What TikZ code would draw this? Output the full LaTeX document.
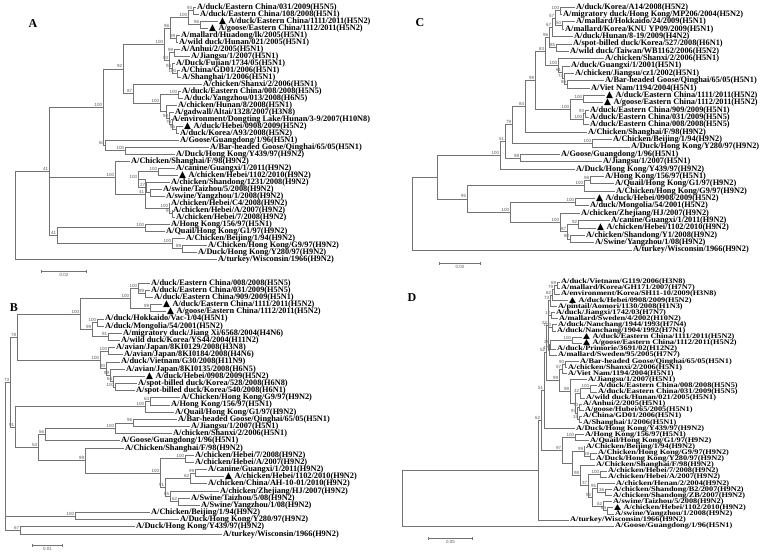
\documentclass[tikz,border=0pt]{standalone}
\usepackage{fontspec}
\setmainfont{Liberation Serif}
\newfontfamily\bootfont{Liberation Sans}
\newfontfamily\symbfont{DejaVu Sans}
\usetikzlibrary{arrows.meta}
\newcommand{\trimark}{{\symbfont\fontsize{9}{9}\selectfont ▲}\hspace{2.5pt}}

\begin{document}
\begin{tikzpicture}[
        x=1pt, y=-1pt,
        leaf/.style={
                anchor=west,
                inner xsep=1pt,
                inner ysep=0pt,
                text height=5.2pt,
                text depth=1pt,
                font=\bfseries\fontsize{8.3}{8.3}\selectfont
            },
        leafd/.style={leaf, yscale=0.85},
        boot/.style={
                font=\bootfont\fontsize{4.5}{4.5}\selectfont,
                text=black!65,
                inner sep=0.6pt
            },
        branch/.style={draw=black!55, line width=0.6pt},
        scalebar/.style={
                {Bar[width=3pt]}-{Bar[width=3pt]},
                draw=black!55,
                line width=0.6pt
            },
        panel/.style={font=\bfseries\fontsize{12}{12}\selectfont}
    ]

    \useasboundingbox (0,0) rectangle (769,557);

    \node[panel] (pa) at (33,24) {A};
    \node[panel] (pb) at (14,308) {B};
    \node[panel] (pc) at (420,23) {C};
    \node[panel] (pd) at (412,298) {D};

    % panel A
    \begin{scope}[y=-7pt]
        \node[leaf] (a1) at (196,1) {A/duck/Eastern China/031/2009(H5N5)};
        \node[leaf] (a2) at (199,2) {A/duck/Eastern China/108/2008(H5N1)};
        \node[leaf] (a3) at (218,3) {\trimark A/duck/Eastern China/1111/2011(H5N2)};
        \node[leaf] (a4) at (208,4) {\trimark A/goose/Eastern China/1112/2011(H5N2)};
        \node[leaf] (a5) at (180,5) {A/mallard/Huadong/lk/2005(H5N1)};
        \node[leaf] (a6) at (178,6) {A/wild duck/Hunan/021/2005(H5N1)};
        \node[leaf] (a7) at (180,7) {A/Anhui/2/2005(H5N1)};
        \node[leaf] (a8) at (190,8) {A/Jiangsu/1/2007(H5N1)};
        \node[leaf] (a9) at (175,9) {A/Duck/Fujian/1734/05(H5N1)};
        \node[leaf] (a10) at (180,10) {A/China/GD01/2006(H5N1)};
        \node[leaf] (a11) at (181,11) {A/Shanghai/1/2006(H5N1)};
        \node[leaf] (a12) at (202,12) {A/chicken/Shanxi/2/2006(H5N1)};
        \node[leaf] (a13) at (181,13) {A/duck/Eastern China/008/2008(H5N5)};
        \node[leaf] (a14) at (183,14) {A/duck/Yangzhou/013/2008(H6N5)};
        \node[leaf] (a15) at (177,15) {A/chicken/Hunan/8/2008(H5N1)};
        \node[leaf] (a16) at (174,16) {A/gadwall/Altai/1328/2007(H3N8)};
        \node[leaf] (a17) at (171,17) {A/environment/Dongting Lake/Hunan/3-9/2007(H10N8)};
        \node[leaf] (a18) at (183,18) {\trimark A/duck/Hebei/0908/2009(H5N2)};
        \node[leaf] (a19) at (179,19) {A/duck/Korea/A93/2008(H5N2)};
        \node[leaf] (a20) at (179,20) {A/Goose/Guangdong/1/96(H5N1)};
        \node[leaf] (a21) at (209,21) {A/Bar-headed Goose/Qinghai/65/05(H5N1)};
        \node[leaf] (a22) at (175,22) {A/Duck/Hong Kong/Y439/97(H9N2)};
        \node[leaf] (a23) at (130,23) {A/Chicken/Shanghai/F/98(H9N2)};
        \node[leaf] (a24) at (175,24) {A/canine/Guangxi/1/2011(H9N2)};
        \node[leaf] (a25) at (178,25) {\trimark A/chicken/Hebei/1102/2010(H9N2)};
        \node[leaf] (a26) at (170,26) {A/chicken/Shandong/1231/2008(H9N2)};
        \node[leaf] (a27) at (162,27) {A/swine/Taizhou/5/2008(H9N2)};
        \node[leaf] (a28) at (165,28) {A/swine/Yangzhou/1/2008(H9N2)};
        \node[leaf] (a29) at (170,29) {A/chicken/Hebei/C4/2008(H9N2)};
        \node[leaf] (a30) at (172,30) {A/chicken/Hebei/A/2007(H9N2)};
        \node[leaf] (a31) at (175,31) {A/chicken/Hebei/7/2008(H9N2)};
        \node[leaf] (a32) at (170,32) {A/Hong Kong/156/97(H5N1)};
        \node[leaf] (a33) at (165,33) {A/Quail/Hong Kong/G1/97(H9N2)};
        \node[leaf] (a34) at (185,34) {A/Chicken/Beijing/1/94(H9N2)};
        \node[leaf] (a35) at (207,35) {A/Chicken/Hong Kong/G9/97(H9N2)};
        \node[leaf] (a36) at (197,36) {A/Duck/Hong Kong/Y280/97(H9N2)};
        \node[leaf] (a37) at (217,37) {A/turkey/Wisconsin/1966(H9N2)};

        \coordinate[label={[boot]above left:94}] (an94) at (193,1.5);
        \coordinate[label={[boot]above left:96}] (an96b) at (200,3.5);
        \coordinate[label={[boot]above left:100}] (an100a) at (188,2.5);
        \coordinate[label={[boot]above left:99}] (an99a) at (176,5.5);
        \coordinate[label={[boot]above left:96}] (an96a) at (170,4);
        \coordinate[label={[boot]above left:99}] (an99b) at (174,7.5);
        \coordinate[label={[boot]above left:100}] (an100b) at (177,10.5);
        \coordinate[label={[boot]above left:94}] (an94b) at (172,9.75);
        \coordinate[label={[boot]above left:50}] (an50) at (169,8.63);
        \coordinate[label={[boot]above left:100}] (an100c) at (164,6.31);
        \coordinate[label={[boot]above left:100}] (an100d) at (178,13.5);
        \coordinate[label={[boot]above left:95}] (an95) at (176,18.5);
        \coordinate[label={[boot]above left:70}] (an70) at (172,17.75);
        \coordinate[label={[boot]above left:94}] (an94c) at (169,16.88);
        \coordinate (anhun) at (166,15.94);
        \coordinate[label={[boot]above left:100}] (an100e) at (160,14.72);
        \coordinate[label={[boot]above left:87}] (an87) at (133,13.36);
        \coordinate[label={[boot]above left:92}] (an92) at (123,9.83);
        \coordinate[label={[boot]above left:100}] (an100g) at (125,21.5);
        \coordinate[label={[boot]above left:60}] (an60) at (105,20.75);
        \coordinate[label={[boot]above left:100}] (an100t) at (103,15.29);
        \coordinate[label={[boot]above left:100}] (an100h) at (158,24.5);
        \coordinate (answ) at (150,27.5);
        \coordinate[label={[boot]above left:27}] (an27) at (146,26.75);
        \coordinate[label={[boot]above left:100}] (an100i) at (138,25.63);
        \coordinate[label={[boot]above left:91}] (an91) at (172,30.5);
        \coordinate[label={[boot]above left:100}] (an100k) at (169,29.75);
        \coordinate[label={[boot]above left:41}] (an41b) at (145,27.69);
        \coordinate[label={[boot]above left:100}] (an100l) at (115,25.34);
        \coordinate[label={[boot]above left:100}] (an100m) at (145,32.5);
        \coordinate[label={[boot]above left:89}] (an89) at (182,35.5);
        \coordinate[label={[boot]above left:100}] (an100n) at (172,34.75);
        \coordinate[label={[boot]above left:41}] (an41c) at (57,33.63);
        \coordinate[label={[boot]above left:41}] (an41) at (49,24.46);
        \coordinate (aroot) at (15,30.73);

        \draw[branch] (an94) |- (a1) (an94) |- (a2);
        \draw[branch] (an96b) |- (a3) (an96b) |- (a4);
        \draw[branch] (an100a) |- (an94) (an100a) |- (an96b);
        \draw[branch] (an99a) |- (a5) (an99a) |- (a6);
        \draw[branch] (an96a) |- (an100a) (an96a) |- (an99a);
        \draw[branch] (an99b) |- (a7) (an99b) |- (a8);
        \draw[branch] (an100b) |- (a10) (an100b) |- (a11);
        \draw[branch] (an94b) |- (a9) (an94b) |- (an100b);
        \draw[branch] (an50) |- (an99b) (an50) |- (an94b);
        \draw[branch] (an100c) |- (an96a) (an100c) |- (an50);
        \draw[branch] (an100d) |- (a13) (an100d) |- (a14);
        \draw[branch] (an95) |- (a18) (an95) |- (a19);
        \draw[branch] (an70) |- (a17) (an70) |- (an95);
        \draw[branch] (an94c) |- (a16) (an94c) |- (an70);
        \draw[branch] (anhun) |- (a15) (anhun) |- (an94c);
        \draw[branch] (an100e) |- (an100d) (an100e) |- (anhun);
        \draw[branch] (an87) |- (a12) (an87) |- (an100e);
        \draw[branch] (an92) |- (an100c) (an92) |- (an87);
        \draw[branch] (an100g) |- (a21) (an100g) |- (a22);
        \draw[branch] (an60) |- (a20) (an60) |- (an100g);
        \draw[branch] (an100t) |- (an92) (an100t) |- (an60);
        \draw[branch] (an100h) |- (a24) (an100h) |- (a25);
        \draw[branch] (answ) |- (a27) (answ) |- (a28);
        \draw[branch] (an27) |- (a26) (an27) |- (answ);
        \draw[branch] (an100i) |- (an100h) (an100i) |- (an27);
        \draw[branch] (an91) |- (a30) (an91) |- (a31);
        \draw[branch] (an100k) |- (a29) (an100k) |- (an91);
        \draw[branch] (an41b) |- (an100i) (an41b) |- (an100k);
        \draw[branch] (an100l) |- (a23) (an100l) |- (an41b);
        \draw[branch] (an100m) |- (a32) (an100m) |- (a33);
        \draw[branch] (an89) |- (a35) (an89) |- (a36);
        \draw[branch] (an100n) |- (a34) (an100n) |- (an89);
        \draw[branch] (an41c) |- (an100m) (an41c) |- (an100n);
        \draw[branch] (an41) |- (an100t) (an41) |- (an100l) (an41) |- (an41c);
        \draw[branch] (aroot) |- (an41) (aroot) |- (a37);
    \end{scope}

    % panel B
    \begin{scope}[yshift=-275.83pt, y=-7.17pt]
        \node[leaf] (b1) at (150,1) {A/duck/Eastern China/008/2008(H5N5)};
        \node[leaf] (b2) at (150,2) {A/duck/Eastern China/031/2009(H5N5)};
        \node[leaf] (b3) at (153,3) {A/duck/Eastern China/909/2009(H5N1)};
        \node[leaf] (b4) at (162,4) {\trimark A/duck/Eastern China/1111/2011(H5N2)};
        \node[leaf] (b5) at (166,5) {\trimark A/goose/Eastern China/1112/2011(H5N2)};
        \node[leaf] (b6) at (104,6) {A/duck/Hokkaido/Vac-1/04(H5N1)};
        \node[leaf] (b7) at (104,7) {A/duck/Mongolia/54/2001(H5N2)};
        \node[leaf] (b8) at (122,8) {A/migratory duck/Jiang Xi/6568/2004(H4N6)};
        \node[leaf] (b9) at (120,9) {A/wild duck/Korea/YS44/2004(H11N2)};
        \node[leaf] (b10) at (115,10) {A/avian/Japan/8KI0129/2008(H3N8)};
        \node[leaf] (b11) at (123,11) {A/avian/Japan/8KI0184/2008(H4N6)};
        \node[leaf] (b12) at (120,12) {A/duck/Vietnam/G30/2008(H11N9)};
        \node[leaf] (b13) at (125,13) {A/avian/Japan/8KI0135/2008(H6N5)};
        \node[leaf] (b14) at (145,14) {\trimark A/duck/Hebei/0908/2009(H5N2)};
        \node[leaf] (b15) at (137,15) {A/spot-billed duck/Korea/528/2008(H6N8)};
        \node[leaf] (b16) at (135,16) {A/spot-billed duck/Korea/540/2008(H6N1)};
        \node[leaf] (b17) at (180,17) {A/Chicken/Hong Kong/G9/97(H9N2)};
        \node[leaf] (b18) at (170,18) {A/Hong Kong/156/97(H5N1)};
        \node[leaf] (b19) at (174,19) {A/Quail/Hong Kong/G1/97(H9N2)};
        \node[leaf] (b20) at (177,20) {A/Bar-headed Goose/Qinghai/65/05(H5N1)};
        \node[leaf] (b21) at (190,21) {A/Jiangsu/1/2007(H5N1)};
        \node[leaf] (b22) at (172,22) {A/chicken/Shanxi/2/2006(H5N1)};
        \node[leaf] (b23) at (120,23) {A/Goose/Guangdong/1/96(H5N1)};
        \node[leaf] (b24) at (124,24) {A/Chicken/Shanghai/F/98(H9N2)};
        \node[leaf] (b25) at (194,25) {A/chicken/Hebei/7/2008(H9N2)};
        \node[leaf] (b26) at (194,26) {A/chicken/Hebei/A/2007(H9N2)};
        \node[leaf] (b27) at (207,27) {A/canine/Guangxi/1/2011(H9N2)};
        \node[leaf] (b28) at (224,28) {\trimark A/chicken/Hebei/1102/2010(H9N2)};
        \node[leaf] (b29) at (207,29) {A/chicken/China/AH-10-01/2010(H9N2)};
        \node[leaf] (b30) at (219,30) {A/chicken/Zhejiang/HJ/2007(H9N2)};
        \node[leaf] (b31) at (190,31) {A/Swine/Taizhou/5/08(H9N2)};
        \node[leaf] (b32) at (200,32) {A/Swine/Yangzhou/1/08(H9N2)};
        \node[leaf] (b33) at (150,33) {A/Chicken/Beijing/1/94(H9N2)};
        \node[leaf] (b34) at (179,34) {A/Duck/Hong Kong/Y280/97(H9N2)};
        \node[leaf] (b35) at (135,35) {A/Duck/Hong Kong/Y439/97(H9N2)};
        \node[leaf] (b36) at (222,36) {A/turkey/Wisconsin/1966(H9N2)};

        \coordinate[label={[boot]above left:99}] (bn99a) at (145,2.5);
        \coordinate[label={[boot]above left:100}] (bn100a) at (138,1.75);
        \coordinate[label={[boot]above left:99}] (bn99b) at (150,4.5);
        \coordinate[label={[boot]above left:100}] (bn100b) at (130,3.13);
        \coordinate[label={[boot]above left:100}] (bn100c) at (97,6.5);
        \coordinate[label={[boot]above left:91}] (bn91) at (108,8.5);
        \coordinate[label={[boot]above left:99}] (bn99c) at (92,7.5);
        \coordinate[label={[boot]above left:100}] (bn100d) at (80,5.31);
        \coordinate[label={[boot]above left:100}] (bn100e) at (108,10.5);
        \coordinate[label={[boot]above left:100}] (bn100f) at (115,15.5);
        \coordinate[label={[boot]above left:64}] (bn64) at (113,14.75);
        \coordinate[label={[boot]above left:99}] (bn99d) at (110,13.88);
        \coordinate[label={[boot]above left:90}] (bn90) at (106,12.94);
        \coordinate[label={[boot]above left:100}] (bn100g) at (100,11.72);
        \coordinate[label={[boot]above left:78}] (bn78) at (17,8.52);
        \coordinate[label={[boot]above left:64}] (bn64h) at (150,17.5);
        \coordinate[label={[boot]above left:100}] (bn100h) at (145,18.25);
        \coordinate[label={[boot]above left:96}] (bn96) at (133,20.5);
        \coordinate[label={[boot]above left:100}] (bn100i) at (115,21.25);
        \coordinate[label={[boot]above left:56}] (bn56) at (45,22.13);
        \coordinate[label={[boot]above left:100}] (bn100j) at (185,25.5);
        \coordinate[label={[boot]above left:99}] (bn99e) at (195,27.5);
        \coordinate[label={[boot]above left:62}] (bn62a) at (190,28.25);
        \coordinate[label={[boot]above left:62}] (bn62b) at (178,31.5);
        \coordinate[label={[boot]above left:65}] (bn65) at (170,30.75);
        \coordinate[label={[boot]above left:91}] (bn91b) at (165,29.5);
        \coordinate[label={[boot]above left:100}] (bn100k) at (160,27.5);
        \coordinate[label={[boot]above left:99}] (bn99f) at (85,25.75);
        \coordinate[label={[boot]above left:53}] (bn53) at (38,23.94);
        \coordinate[label={[boot]above left:91}] (bn91a) at (15,21.1);
        \coordinate[label={[boot]above left:73}] (bn73) at (10,14.81);
        \coordinate[label={[boot]above left:100}] (bn100l) at (75,33.5);
        \coordinate[label={[boot]above left:67}] (bn67) at (20,35.5);
        \coordinate (broot) at (5,25.16);

        \draw[branch] (bn99a) |- (b2) (bn99a) |- (b3);
        \draw[branch] (bn100a) |- (b1) (bn100a) |- (bn99a);
        \draw[branch] (bn99b) |- (b4) (bn99b) |- (b5);
        \draw[branch] (bn100b) |- (bn100a) (bn100b) |- (bn99b);
        \draw[branch] (bn100c) |- (b6) (bn100c) |- (b7);
        \draw[branch] (bn91) |- (b8) (bn91) |- (b9);
        \draw[branch] (bn99c) |- (bn100c) (bn99c) |- (bn91);
        \draw[branch] (bn100d) |- (bn100b) (bn100d) |- (bn99c);
        \draw[branch] (bn100e) |- (b10) (bn100e) |- (b11);
        \draw[branch] (bn100f) |- (b15) (bn100f) |- (b16);
        \draw[branch] (bn64) |- (b14) (bn64) |- (bn100f);
        \draw[branch] (bn99d) |- (b13) (bn99d) |- (bn64);
        \draw[branch] (bn90) |- (b12) (bn90) |- (bn99d);
        \draw[branch] (bn100g) |- (bn100e) (bn100g) |- (bn90);
        \draw[branch] (bn78) |- (bn100d) (bn78) |- (bn100g);
        \draw[branch] (bn64h) |- (b17) (bn64h) |- (b18);
        \draw[branch] (bn100h) |- (bn64h) (bn100h) |- (b19);
        \draw[branch] (bn96) |- (b20) (bn96) |- (b21);
        \draw[branch] (bn100i) |- (bn96) (bn100i) |- (b22);
        \draw[branch] (bn56) |- (bn100i) (bn56) |- (b23);
        \draw[branch] (bn100j) |- (b25) (bn100j) |- (b26);
        \draw[branch] (bn99e) |- (b27) (bn99e) |- (b28);
        \draw[branch] (bn62a) |- (bn99e) (bn62a) |- (b29);
        \draw[branch] (bn62b) |- (b31) (bn62b) |- (b32);
        \draw[branch] (bn65) |- (b30) (bn65) |- (bn62b);
        \draw[branch] (bn91b) |- (bn62a) (bn91b) |- (bn65);
        \draw[branch] (bn100k) |- (bn100j) (bn100k) |- (bn91b);
        \draw[branch] (bn99f) |- (b24) (bn99f) |- (bn100k);
        \draw[branch] (bn53) |- (bn56) (bn53) |- (bn99f);
        \draw[branch] (bn91a) |- (bn100h) (bn91a) |- (bn53);
        \draw[branch] (bn73) |- (bn78) (bn73) |- (bn91a);
        \draw[branch] (bn100l) |- (b33) (bn100l) |- (b34);
        \draw[branch] (bn67) |- (b35) (bn67) |- (b36);
        \draw[branch] (broot) |- (bn73) (broot) |- (bn100l) (broot) |- (bn67);
    \end{scope}

    % panel C
    \begin{scope}[yshift=0.36pt, y=-7.36pt]
        \node[leaf] (c1) at (575,1) {A/duck/Korea/A14/2008(H5N2)};
        \node[leaf] (c2) at (562,2) {A/migratory duck/Hong Kong/MP206/2004(H5N2)};
        \node[leaf] (c3) at (575,3) {A/mallard/Hokkaido/24/2009(H5N1)};
        \node[leaf] (c4) at (564,4) {A/mallard/Korea/KNU YP09/2009(H5N1)};
        \node[leaf] (c5) at (573,5) {A/duck/Hunan/8-19/2009(H4N2)};
        \node[leaf] (c6) at (572,6) {A/spot-billed duck/Korea/527/2008(H6N1)};
        \node[leaf] (c7) at (569,7) {A/wild duck/Taiwan/WB1162/2006(H5N2)};
        \node[leaf] (c8) at (604,8) {A/chicken/Shanxi/2/2006(H5N1)};
        \node[leaf] (c9) at (570,9) {A/duck/Guangxi/1/2001(H5N1)};
        \node[leaf] (c10) at (574,10) {A/chicken/Jiangsu/cz1/2002(H5N1)};
        \node[leaf] (c11) at (604,11) {A/Bar-headed Goose/Qinghai/65/05(H5N1)};
        \node[leaf] (c12) at (590,12) {A/Viet Nam/1194/2004(H5N1)};
        \node[leaf] (c13) at (605,13) {\trimark A/duck/Eastern China/1111/2011(H5N2)};
        \node[leaf] (c14) at (603,14) {\trimark A/goose/Eastern China/1112/2011(H5N2)};
        \node[leaf] (c15) at (589,15) {A/duck/Eastern China/909/2009(H5N1)};
        \node[leaf] (c16) at (589,16) {A/duck/Eastern China/031/2009(H5N5)};
        \node[leaf] (c17) at (589,17) {A/duck/Eastern China/008/2008(H5N5)};
        \node[leaf] (c18) at (587,18) {A/Chicken/Shanghai/F/98(H9N2)};
        \node[leaf] (c19) at (612,19) {A/Chicken/Beijing/1/94(H9N2)};
        \node[leaf] (c20) at (630,20) {A/Duck/Hong Kong/Y280/97(H9N2)};
        \node[leaf] (c21) at (560,21) {A/Goose/Guangdong/1/96(H5N1)};
        \node[leaf] (c22) at (602,22) {A/Jiangsu/1/2007(H5N1)};
        \node[leaf] (c23) at (575,23) {A/Duck/Hong Kong/Y439/97(H9N2)};
        \node[leaf] (c24) at (604,24) {A/Hong Kong/156/97(H5N1)};
        \node[leaf] (c25) at (614,25) {A/Quail/Hong Kong/G1/97(H9N2)};
        \node[leaf] (c26) at (615,26) {A/Chicken/Hong Kong/G9/97(H9N2)};
        \node[leaf] (c27) at (595,27) {\trimark A/duck/Hebei/0908/2009(H5N2)};
        \node[leaf] (c28) at (589,28) {A/duck/Mongolia/54/2001(H5N2)};
        \node[leaf] (c29) at (580,29) {A/chicken/Zhejiang/HJ/2007(H9N2)};
        \node[leaf] (c30) at (610,30) {A/canine/Guangxi/1/2011(H9N2)};
        \node[leaf] (c31) at (596,31) {\trimark A/chicken/Hebei/1102/2010(H9N2)};
        \node[leaf] (c32) at (585,32) {A/chicken/Shandong/Y1/2008(H9N2)};
        \node[leaf] (c33) at (594,33) {A/Swine/Yangzhou/1/08(H9N2)};
        \node[leaf] (c34) at (632,34) {A/turkey/Wisconsin/1966(H9N2)};

        \coordinate[label={[boot]above left:100}] (cn100a) at (560,1.5);
        \coordinate[label={[boot]above left:50}] (cn50) at (562,3.5);
        \coordinate[label={[boot]above left:57}] (cn57) at (555,2.5);
        \coordinate[label={[boot]above left:67}] (cn67) at (552,3.75);
        \coordinate[label={[boot]above left:85}] (cn85) at (556,6.5);
        \coordinate[label={[boot]above left:96}] (cn96) at (549,5.13);
        \coordinate[label={[boot]above left:86}] (cn86) at (567,11.5);
        \coordinate[label={[boot]above left:74}] (cn74) at (564,10.75);
        \coordinate[label={[boot]above left:61}] (cn61) at (562,9.88);
        \coordinate[label={[boot]above left:100}] (cn100b) at (558,8.94);
        \coordinate[label={[boot]above left:83}] (cn83) at (545,7.03);
        \coordinate[label={[boot]above left:100}] (cn100c) at (583,13.5);
        \coordinate[label={[boot]above left:93}] (cn93) at (585,15.5);
        \coordinate[label={[boot]above left:100}] (cn100d) at (583,16.25);
        \coordinate[label={[boot]above left:100}] (cn100e) at (570,14.88);
        \coordinate[label={[boot]above left:99}] (cn99) at (535,10.95);
        \coordinate[label={[boot]above left:84}] (cn84) at (525,14.48);
        \coordinate[label={[boot]above left:100}] (cn100f) at (592,19.5);
        \coordinate[label={[boot]above left:79}] (cn79) at (512,16.99);
        \coordinate[label={[boot]above left:98}] (cn98) at (520,21.5);
        \coordinate[label={[boot]above left:51}] (cn51) at (505,19.24);
        \coordinate[label={[boot]above left:100}] (cn100g) at (500,21.12);
        \coordinate[label={[boot]above left:98}] (cn98b) at (590,24.5);
        \coordinate[label={[boot]above left:100}] (cn100h) at (584,25.25);
        \coordinate[label={[boot]above left:100}] (cn100i) at (575,27.5);
        \coordinate[label={[boot]above left:92}] (cn92) at (578,30.5);
        \coordinate[label={[boot]above left:80}] (cn80) at (570,32.5);
        \coordinate[label={[boot]above left:87}] (cn87) at (567,31.5);
        \coordinate[label={[boot]above left:100}] (cn100j) at (560,30.25);
        \coordinate[label={[boot]above left:100}] (cn100k) at (510,28.88);
        \coordinate[label={[boot]above left:95}] (cn95) at (467,27.06);
        \coordinate (cnin) at (437,24.09);
        \coordinate (croot) at (412,29.05);

        \draw[branch] (cn100a) |- (c1) (cn100a) |- (c2);
        \draw[branch] (cn50) |- (c3) (cn50) |- (c4);
        \draw[branch] (cn57) |- (cn100a) (cn57) |- (cn50);
        \draw[branch] (cn67) |- (cn57) (cn67) |- (c5);
        \draw[branch] (cn85) |- (c6) (cn85) |- (c7);
        \draw[branch] (cn96) |- (cn67) (cn96) |- (cn85);
        \draw[branch] (cn86) |- (c11) (cn86) |- (c12);
        \draw[branch] (cn74) |- (c10) (cn74) |- (cn86);
        \draw[branch] (cn61) |- (c9) (cn61) |- (cn74);
        \draw[branch] (cn100b) |- (c8) (cn100b) |- (cn61);
        \draw[branch] (cn83) |- (cn96) (cn83) |- (cn100b);
        \draw[branch] (cn100c) |- (c13) (cn100c) |- (c14);
        \draw[branch] (cn93) |- (c15) (cn93) |- (c16);
        \draw[branch] (cn100d) |- (cn93) (cn100d) |- (c17);
        \draw[branch] (cn100e) |- (cn100c) (cn100e) |- (cn100d);
        \draw[branch] (cn99) |- (cn83) (cn99) |- (cn100e);
        \draw[branch] (cn84) |- (cn99) (cn84) |- (c18);
        \draw[branch] (cn100f) |- (c19) (cn100f) |- (c20);
        \draw[branch] (cn79) |- (cn84) (cn79) |- (cn100f);
        \draw[branch] (cn98) |- (c21) (cn98) |- (c22);
        \draw[branch] (cn51) |- (cn79) (cn51) |- (cn98);
        \draw[branch] (cn100g) |- (cn51) (cn100g) |- (c23);
        \draw[branch] (cn98b) |- (c24) (cn98b) |- (c25);
        \draw[branch] (cn100h) |- (cn98b) (cn100h) |- (c26);
        \draw[branch] (cn100i) |- (c27) (cn100i) |- (c28);
        \draw[branch] (cn92) |- (c30) (cn92) |- (c31);
        \draw[branch] (cn80) |- (c32) (cn80) |- (c33);
        \draw[branch] (cn87) |- (cn92) (cn87) |- (cn80);
        \draw[branch] (cn100j) |- (c29) (cn100j) |- (cn87);
        \draw[branch] (cn100k) |- (cn100i) (cn100k) |- (cn100j);
        \draw[branch] (cn95) |- (cn100h) (cn95) |- (cn100k);
        \draw[branch] (cnin) |- (cn100g) (cnin) |- (cn95);
        \draw[branch] (croot) |- (cnin) (croot) |- (c34);
    \end{scope}

    % panel D
    \begin{scope}[yshift=-275.9pt, y=-6.1pt]
        \node[leafd] (d1) at (560,1) {A/duck/Vietnam/G119/2006(H3N8)};
        \node[leafd] (d2) at (560,2) {A/mallard/Korea/GH171/2007(H7N7)};
        \node[leafd] (d3) at (560,3) {A/environment/Korea/SH11-10/2009(H3N8)};
        \node[leafd] (d4) at (568,4) {\trimark A/duck/Hebei/0908/2009(H5N2)};
        \node[leafd] (d5) at (557,5) {A/pintail/Aomori/1130/2008(H1N3)};
        \node[leafd] (d6) at (555,6) {A/duck/Jiangxi/1742/03(H7N7)};
        \node[leafd] (d7) at (558,7) {A/mallard/Sweden/4/2002(H10N2)};
        \node[leafd] (d8) at (557,8) {A/duck/Nanchang/1944/1993(H7N4)};
        \node[leafd] (d9) at (556,9) {A/duck/Nanchang/1904/1992(H7N1)};
        \node[leafd] (d10) at (582,10) {\trimark A/duck/Eastern China/1111/2011(H5N2)};
        \node[leafd] (d11) at (582,11) {\trimark A/goose/Eastern China/1112/2011(H5N2)};
        \node[leafd] (d12) at (556,12) {A/duck/Primorie/3691/02(H12N2)};
        \node[leafd] (d13) at (557,13) {A/mallard/Sweden/95/2005(H7N7)};
        \node[leafd] (d14) at (579,14) {A/Bar-headed Goose/Qinghai/65/05(H5N1)};
        \node[leafd] (d15) at (567,15) {A/chicken/Shanxi/2/2006(H5N1)};
        \node[leafd] (d16) at (567,16) {A/Viet Nam/1194/2004(H5N1)};
        \node[leafd] (d17) at (587,17) {A/Jiangsu/1/2007(H5N1)};
        \node[leafd] (d18) at (597,18) {A/duck/Eastern China/008/2008(H5N5)};
        \node[leafd] (d19) at (597,19) {A/duck/Eastern China/031/2009(H5N5)};
        \node[leafd] (d20) at (585,20) {A/wild duck/Hunan/021/2005(H5N1)};
        \node[leafd] (d21) at (582,21) {A/Anhui/2/2005(H5N1)};
        \node[leafd] (d22) at (584,22) {A/goose/Hubei/65/2005(H5N1)};
        \node[leafd] (d23) at (582,23) {A/China/GD01/2006(H5N1)};
        \node[leafd] (d24) at (582,24) {A/Shanghai/1/2006(H5N1)};
        \node[leafd] (d25) at (575,25) {A/Duck/Hong Kong/Y439/97(H9N2)};
        \node[leafd] (d26) at (584,26) {A/Hong Kong/156/97(H5N1)};
        \node[leafd] (d27) at (589,27) {A/Quail/Hong Kong/G1/97(H9N2)};
        \node[leafd] (d28) at (585,28) {A/Chicken/Beijing/1/94(H9N2)};
        \node[leafd] (d29) at (597,29) {A/Chicken/Hong Kong/G9/97(H9N2)};
        \node[leafd] (d30) at (595,30) {A/Duck/Hong Kong/Y280/97(H9N2)};
        \node[leafd] (d31) at (595,31) {A/Chicken/Shanghai/F/98(H9N2)};
        \node[leafd] (d32) at (607,32) {A/chicken/Hebei/7/2008(H9N2)};
        \node[leafd] (d33) at (607,33) {A/chicken/Hebei/A/2007(H9N2)};
        \node[leafd] (d34) at (615,34) {A/chicken/Henan/2/2004(H9N2)};
        \node[leafd] (d35) at (612,35) {A/chicken/Shandong/B2/2007(H9N2)};
        \node[leafd] (d36) at (612,36) {A/chicken/Shandong/ZB/2007(H9N2)};
        \node[leafd] (d37) at (612,37) {A/swine/Taizhou/5/2008(H9N2)};
        \node[leafd] (d38) at (613,38) {\trimark A/chicken/Hebei/1102/2010(H9N2)};
        \node[leafd] (d39) at (614,39) {A/swine/Yangzhou/1/2008(H9N2)};
        \node[leafd] (d40) at (569,40) {A/turkey/Wisconsin/1966(H9N2)};
        \node[leafd] (d41) at (614,41) {A/Goose/Guangdong/1/96(H5N1)};

        \coordinate[label={[boot]above left:69}] (dn69) at (557,1.5);
        \coordinate[label={[boot]above left:79}] (dn79) at (554,2.25);
        \coordinate[label={[boot]above left:82}] (dn82) at (552,3.13);
        \coordinate[label={[boot]above left:73}] (dn73) at (550,4.06);
        \coordinate[label={[boot]above left:12}] (dn12) at (551,6.5);
        \coordinate[label={[boot]above left:100}] (dn100a) at (552,8.5);
        \coordinate[label={[boot]above left:100}] (dn100b) at (572,10.5);
        \coordinate[label={[boot]above left:28}] (dn28) at (550,11.25);
        \coordinate[label={[boot]above left:47}] (dn47) at (549,12.13);
        \coordinate[label={[boot]above left:22}] (dneur) at (548,8.09);
        \coordinate[label={[boot]above left:90}] (dn90) at (565,14.5);
        \coordinate[label={[boot]above left:57}] (dn57) at (562,15.25);
        \coordinate[label={[boot]above left:100}] (dn100c) at (590,18.5);
        \coordinate[label={[boot]above left:42}] (dn42) at (580,19.25);
        \coordinate[label={[boot]above left:70}] (dn70) at (579,21.5);
        \coordinate[label={[boot]above left:15}] (dn15) at (579,23.5);
        \coordinate[label={[boot]above left:97}] (dn97a) at (577,22.5);
        \coordinate (dnx) at (575,20.88);
        \coordinate[label={[boot]above left:98}] (dn98) at (570,18.94);
        \coordinate[label={[boot]above left:99}] (dn99b) at (559,17.1);
        \coordinate[label={[boot]above left:52}] (dn52) at (546,12.6);
        \coordinate[label={[boot]above left:51}] (dn51) at (544,18.8);
        \coordinate[label={[boot]above left:100}] (dn100d) at (575,26.5);
        \coordinate[label={[boot]above left:59}] (dn59) at (590,29.5);
        \coordinate[label={[boot]above left:99}] (dn99c) at (584,28.75);
        \coordinate[label={[boot]above left:100}] (dn100e) at (600,32.5);
        \coordinate[label={[boot]above left:36}] (dn36) at (605,35.5);
        \coordinate[label={[boot]above left:95}] (dn95) at (597,34.75);
        \coordinate[label={[boot]above left:64}] (dn64) at (607,38.5);
        \coordinate[label={[boot]above left:52}] (dn52b) at (603,37.75);
        \coordinate[label={[boot]above left:92}] (dn92) at (592,36.25);
        \coordinate[label={[boot]above left:37}] (dn37) at (588,34.38);
        \coordinate[label={[boot]above left:98}] (dn98b) at (580,32.69);
        \coordinate (dn99d) at (572,30.72);
        \coordinate[label={[boot]above left:97}] (dn97) at (562,28.61);
        \coordinate[label={[boot]above left:62}] (dn62) at (541,23.71);
        \coordinate (dnt) at (538,31.85);
        \coordinate (droot) at (402,36.43);

        \draw[branch] (dn69) |- (d1) (dn69) |- (d2);
        \draw[branch] (dn79) |- (dn69) (dn79) |- (d3);
        \draw[branch] (dn82) |- (dn79) (dn82) |- (d4);
        \draw[branch] (dn73) |- (dn82) (dn73) |- (d5);
        \draw[branch] (dn12) |- (d6) (dn12) |- (d7);
        \draw[branch] (dn100a) |- (d8) (dn100a) |- (d9);
        \draw[branch] (dn100b) |- (d10) (dn100b) |- (d11);
        \draw[branch] (dn28) |- (dn100b) (dn28) |- (d12);
        \draw[branch] (dn47) |- (dn28) (dn47) |- (d13);
        \draw[branch] (dneur) |- (dn73) (dneur) |- (dn12) (dneur) |- (dn100a) (dneur) |- (dn47);
        \draw[branch] (dn90) |- (d14) (dn90) |- (d15);
        \draw[branch] (dn57) |- (dn90) (dn57) |- (d16);
        \draw[branch] (dn100c) |- (d18) (dn100c) |- (d19);
        \draw[branch] (dn42) |- (dn100c) (dn42) |- (d20);
        \draw[branch] (dn70) |- (d21) (dn70) |- (d22);
        \draw[branch] (dn15) |- (d23) (dn15) |- (d24);
        \draw[branch] (dn97a) |- (dn70) (dn97a) |- (dn15);
        \draw[branch] (dnx) |- (dn42) (dnx) |- (dn97a);
        \draw[branch] (dn98) |- (d17) (dn98) |- (dnx);
        \draw[branch] (dn99b) |- (dn57) (dn99b) |- (dn98);
        \draw[branch] (dn52) |- (dneur) (dn52) |- (dn99b);
        \draw[branch] (dn51) |- (dn52) (dn51) |- (d25);
        \draw[branch] (dn100d) |- (d26) (dn100d) |- (d27);
        \draw[branch] (dn59) |- (d29) (dn59) |- (d30);
        \draw[branch] (dn99c) |- (d28) (dn99c) |- (dn59);
        \draw[branch] (dn100e) |- (d32) (dn100e) |- (d33);
        \draw[branch] (dn36) |- (d35) (dn36) |- (d36);
        \draw[branch] (dn95) |- (d34) (dn95) |- (dn36);
        \draw[branch] (dn64) |- (d38) (dn64) |- (d39);
        \draw[branch] (dn52b) |- (d37) (dn52b) |- (dn64);
        \draw[branch] (dn92) |- (dn95) (dn92) |- (dn52b);
        \draw[branch] (dn37) |- (dn100e) (dn37) |- (dn92);
        \draw[branch] (dn98b) |- (d31) (dn98b) |- (dn37);
        \draw[branch] (dn99d) |- (dn99c) (dn99d) |- (dn98b);
        \draw[branch] (dn97) |- (dn100d) (dn97) |- (dn99d);
        \draw[branch] (dn62) |- (dn51) (dn62) |- (dn97);
        \draw[branch] (dnt) |- (dn62) (dnt) |- (d40);
        \draw[branch] (droot) |- (dnt) (droot) |- (d41);
    \end{scope}

    % scale bars
    \coordinate (sa1) at (41,271);
    \coordinate (sa2) at (87,271);
    \draw[scalebar] (sa1) -- (sa2) node[boot, midway, below=1.5pt] (sa) {0.02};
    \coordinate (sb1) at (32,545);
    \coordinate (sb2) at (63,545);
    \draw[scalebar] (sb1) -- (sb2) node[boot, midway, below=1.5pt] (sb) {0.01};
    \coordinate (sc1) at (439,263);
    \coordinate (sc2) at (481,263);
    \draw[scalebar] (sc1) -- (sc2) node[boot, midway, below=1.5pt] (sc) {0.02};
    \coordinate (sd1) at (428,538);
    \coordinate (sd2) at (473,538);
    \draw[scalebar] (sd1) -- (sd2) node[boot, midway, below=1.5pt] (sd) {0.05};

\end{tikzpicture}
\end{document}
